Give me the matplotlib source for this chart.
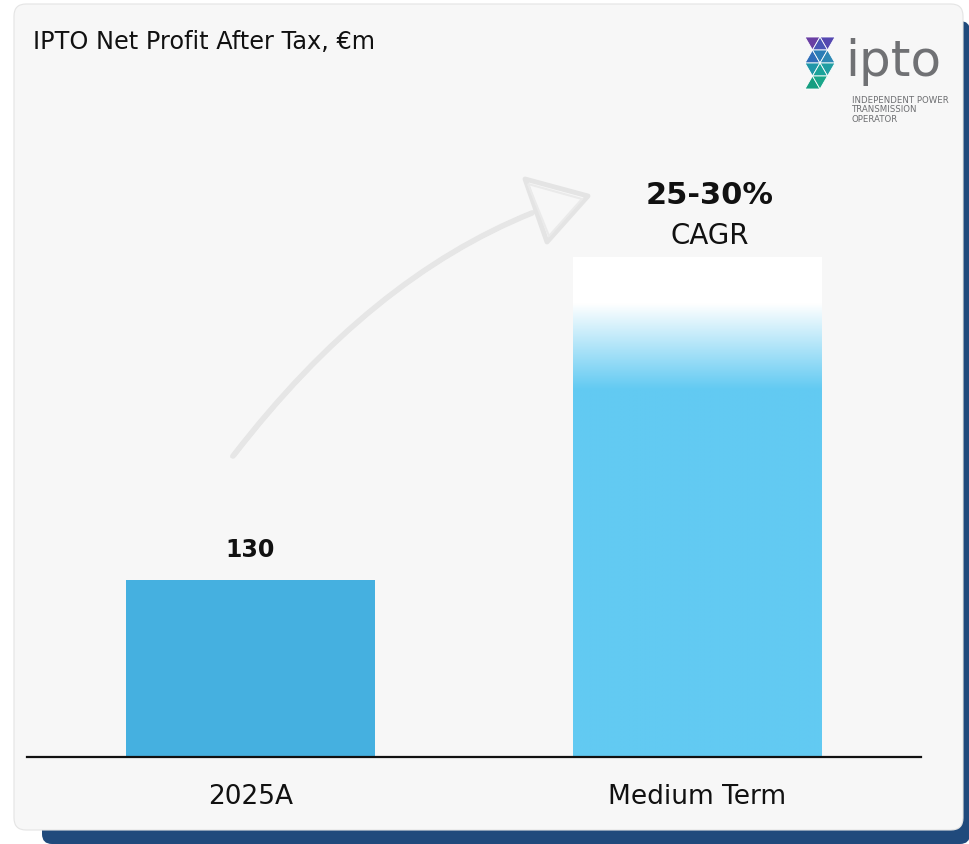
import numpy as np
import matplotlib
matplotlib.use('Agg')
import matplotlib.pyplot as plt
from matplotlib.patches import FancyBboxPatch, Polygon, PathPatch
from matplotlib.path import Path
from matplotlib.colors import to_rgb

# data
categories = ['2025A', 'Medium Term']
values = [130, 367]          # medium term bar is illustrative, estimated from its height
bar_colors = ['#45b0e0', '#62caf2']
first_label = '130'
growth_label = '25-30%'
growth_sub = 'CAGR'
title = 'IPTO Net Profit After Tax, €m'

W, H = 970, 845
fig = plt.figure(figsize=(W / 100, H / 100), dpi=100)
fig.patch.set_facecolor('white')

# background layer in pixel coords (card, shadow, arrow, logo)
bg = fig.add_axes([0, 0, 1, 1], zorder=0)
bg.set_xlim(0, W)
bg.set_ylim(H, 0)
bg.axis('off')

shadow = FancyBboxPatch((42, 22), 928, 823, boxstyle='round,pad=0,rounding_size=10',
                        facecolor='#204a7c', edgecolor='none')
bg.add_patch(shadow)
card = FancyBboxPatch((14, 5), 949, 826, boxstyle='round,pad=0,rounding_size=12',
                      facecolor='#f7f7f7', edgecolor='#e4e4e4', lw=0.8)
bg.add_patch(card)

bg.text(33, 42, title, fontsize=17.3, va='center', ha='left', color='#111111',
        family='DejaVu Sans')

# sketchy growth arrow
p0, c, p1 = (233, 457), (370, 279), (532, 214)
for dx, dy, lw in [(0, 0, 4.0), (2, -1, 2.5), (-2, 1, 1.2)]:
    path = Path([(p0[0] + dx, p0[1] + dy), (c[0] + dx, c[1] + dy), (p1[0] + dx, p1[1] + dy)],
                [Path.MOVETO, Path.CURVE3, Path.CURVE3])
    bg.add_patch(PathPatch(path, fill=False, edgecolor='#e6e6e6', lw=lw, capstyle='round'))
head = [(525, 180), (588, 197), (547, 243)]
bg.add_patch(Polygon(head, closed=True, fill=False, edgecolor='#e4e4e4', lw=3.5, joinstyle='round'))
bg.add_patch(Polygon([(528, 185), (582, 200), (549, 237)], closed=True, fill=False,
                     edgecolor='#eaeaea', lw=1.5))

# logo mark
tris = [
    ([(805, 38), (820, 38), (812.5, 51)], '#6a3fa3'),
    ([(820, 38), (835, 38), (827.5, 51)], '#5548b0'),
    ([(812.5, 51), (827.5, 51), (820, 38)], '#4a55b5'),
    ([(805, 64), (812.5, 51), (820, 64)], '#2f6db8'),
    ([(812.5, 51), (827.5, 51), (820, 64)], '#2b7db6'),
    ([(820, 64), (827.5, 51), (835, 64)], '#2f88b4'),
    ([(805, 64), (820, 64), (812.5, 77)], '#1f96a8'),
    ([(820, 64), (835, 64), (827.5, 77)], '#229ea2'),
    ([(812.5, 77), (827.5, 77), (820, 64)], '#1aa39a'),
    ([(805, 90), (812.5, 77), (820, 90)], '#169e80'),
    ([(812.5, 77), (827.5, 77), (820, 90)], '#1aa68a'),
]
for pts, col in tris:
    bg.add_patch(Polygon(pts, closed=True, facecolor=col, edgecolor='white', lw=0.6))
bg.text(845, 62, 'ipto', fontsize=36, color='#707174', va='center', ha='left',
        family='DejaVu Sans')
bg.text(852, 110, 'INDEPENDENT POWER\nTRANSMISSION\nOPERATOR', fontsize=6.2,
        color='#6d6e71', va='center', ha='left', linespacing=1.05, family='DejaVu Sans')

# chart axes
x0, x1, ybase, ytop = 27, 921, 758, 100
ax = fig.add_axes([x0 / W, (H - ybase) / H, (x1 - x0) / W, (ybase - ytop) / H], zorder=1)
ax.patch.set_alpha(0)
ymax = 130 * (ybase - ytop) / (ybase - 581)
ax.set_xlim(-0.5, 1.5)
ax.set_ylim(0, ymax)

xs = np.arange(len(categories))
bars = ax.bar(xs, values, width=0.556, color=bar_colors, zorder=2)

# white-to-blue fade on the top of the medium term bar
b = bars[1]
rgb = np.array(to_rgb(bar_colors[1]))
n = 400
frac = np.linspace(0, 1, n)   # 0 = top of bar
t = np.clip((frac - 0.092) / (0.264 - 0.092), 0, 1)
grad = (1 - t)[:, None] * np.ones(3) + t[:, None] * rgb
img = np.repeat(grad[:, None, :], 2, axis=1)
bx, bw, bh = b.get_x(), b.get_width(), b.get_height()
ax.imshow(img, extent=[bx, bx + bw, 0, bh], aspect='auto', origin='upper',
          zorder=3, interpolation='bilinear')

ax.annotate(first_label, (xs[0], values[0]), xytext=(0, 22), textcoords='offset points',
            ha='center', va='center', fontsize=17, fontweight='bold', color='#111111')
ax.annotate(growth_label, (xs[1], values[1]), xytext=(9, 45), textcoords='offset points',
            ha='center', va='center', fontsize=22, fontweight='bold', color='#111111')
ax.annotate(growth_sub, (xs[1], values[1]), xytext=(9, 16), textcoords='offset points',
            ha='center', va='center', fontsize=20, color='#111111')

for s in ['top', 'left', 'right']:
    ax.spines[s].set_visible(False)
ax.spines['bottom'].set_linewidth(1.6)
ax.spines['bottom'].set_color('#111111')
ax.spines['bottom'].set_zorder(4)
ax.set_yticks([])
ax.set_xticks(xs)
ax.set_xticklabels(categories, fontsize=19, color='#111111')
ax.tick_params(axis='x', length=0, pad=19)

fig.savefig('out.png', dpi=100, facecolor='white')
